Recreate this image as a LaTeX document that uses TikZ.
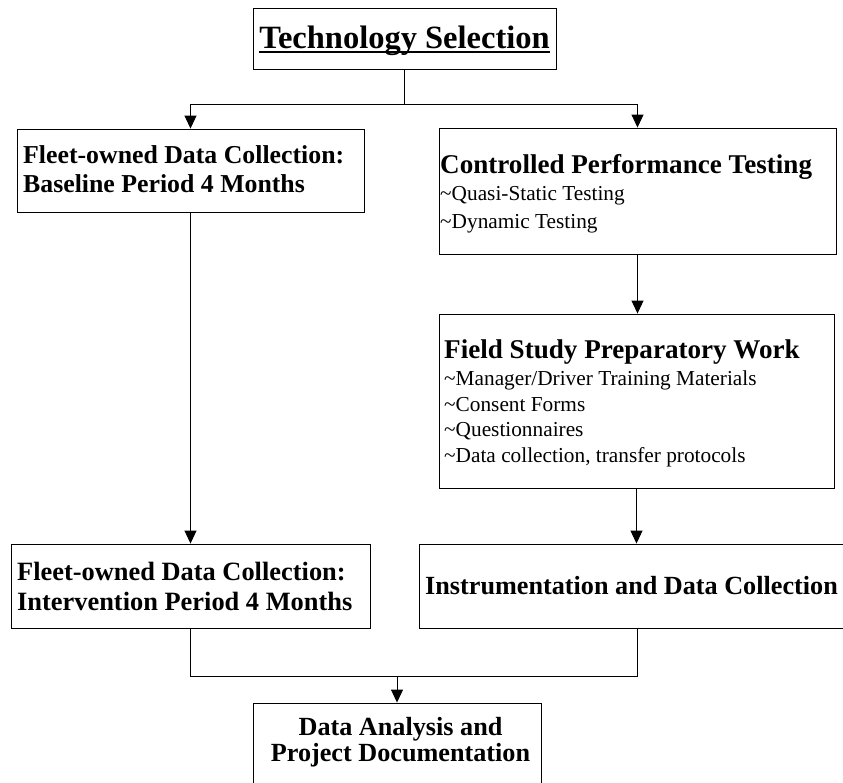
\documentclass[tikz,border=0pt]{standalone}
\usepackage{fontspec}
\setmainfont{Liberation Serif}
\usetikzlibrary{arrows.meta}
\newcommand\thickul[1]{\setbox0\hbox{#1}\rlap{\rule[-5pt]{\wd0}{2pt}}\box0}
\begin{document}
\begin{tikzpicture}[x=1pt,y=-1pt,
  box/.style={draw=black, line width=0.9pt, inner sep=0pt},
  bt/.style={font=\fontsize{27.1}{30}\selectfont\bfseries, anchor=base west, inner sep=0pt},
  st/.style={font=\fontsize{21.3}{24}\selectfont, anchor=base west, inner sep=0pt},
  arr/.style={-{Triangle[length=13pt,width=12pt]}, line width=0.9pt},
  ln/.style={line width=0.9pt}]
\useasboundingbox (0,0) rectangle (843,782);
\clip (0,0) rectangle (843,782);
% boxes
\node[box, minimum width=303pt, minimum height=61pt] (tech) at (404.5,38.5) {};
\node[box, minimum width=347pt, minimum height=83pt] (fleet1) at (190.5,170.5) {};
\node[box, minimum width=397pt, minimum height=126pt] (cpt) at (637.5,191) {};
\node[box, minimum width=395pt, minimum height=174pt] (field) at (636.5,401) {};
\node[box, minimum width=359pt, minimum height=84pt] (fleet2) at (190.5,586) {};
\node[box, minimum width=437pt, minimum height=84pt] (instr) at (637.5,586) {};
\node[box, minimum width=288pt, minimum height=97pt] (final) at (397,751.5) {};
% texts
\node[anchor=base, inner sep=0pt, font=\fontsize{32.5}{36}\selectfont\bfseries] (techT) at (404.5,48) {\thickul{Technology Selection}};
\node[bt, font=\fontsize{25.8}{30}\selectfont\bfseries] (f1a) at (23,163) {Fleet-owned Data Collection:};
\node[bt, font=\fontsize{25.8}{30}\selectfont\bfseries] (f1b) at (23,192) {Baseline Period 4 Months};
\node[bt] (cptT) at (440,173) {Controlled Performance Testing};
\node[st] (cpt1) at (440,200) {\textasciitilde Quasi-Static Testing};
\node[st] (cpt2) at (440,228) {\textasciitilde Dynamic Testing};
\node[bt] (fieldT) at (444,358) {Field Study Preparatory Work};
\node[st] (fs1) at (444,385) {\textasciitilde Manager/Driver Training Materials};
\node[st] (fs2) at (444,411) {\textasciitilde Consent Forms};
\node[st] (fs3) at (444,436) {\textasciitilde Questionnaires};
\node[st] (fs4) at (444,462) {\textasciitilde Data collection, transfer protocols};
\node[bt, font=\fontsize{26.4}{30}\selectfont\bfseries] (f2a) at (17,580) {Fleet-owned Data Collection:};
\node[bt, font=\fontsize{26.4}{30}\selectfont\bfseries] (f2b) at (17,610) {Intervention Period 4 Months};
\node[bt, font=\fontsize{26.2}{30}\selectfont\bfseries] (instrT) at (425,594) {Instrumentation and Data Collection};
\node[bt, anchor=base, font=\fontsize{26.2}{30}\selectfont\bfseries] (finA) at (400.5,735) {Data Analysis and};
\node[bt, anchor=base, font=\fontsize{26.2}{30}\selectfont\bfseries] (finB) at (400.5,761) {Project Documentation};
% connectors
\coordinate (j1) at (404.5,104);
\draw[ln] (tech.south) -- (j1);
\draw[arr] (j1) -| (fleet1.north);
\draw[arr] (j1) -| (cpt.north);
\draw[arr] (fleet1.south) -- (fleet2.north);
\draw[arr] (cpt.south) -- (cpt.south |- field.north);
\draw[arr] (field.south) -- (field.south |- instr.north);
\coordinate (j2) at (397,676);
\draw[ln] (fleet2.south) |- (j2);
\draw[ln] (instr.south) |- (j2);
\draw[arr] (j2) -- (final.north);
\end{tikzpicture}
\end{document}
